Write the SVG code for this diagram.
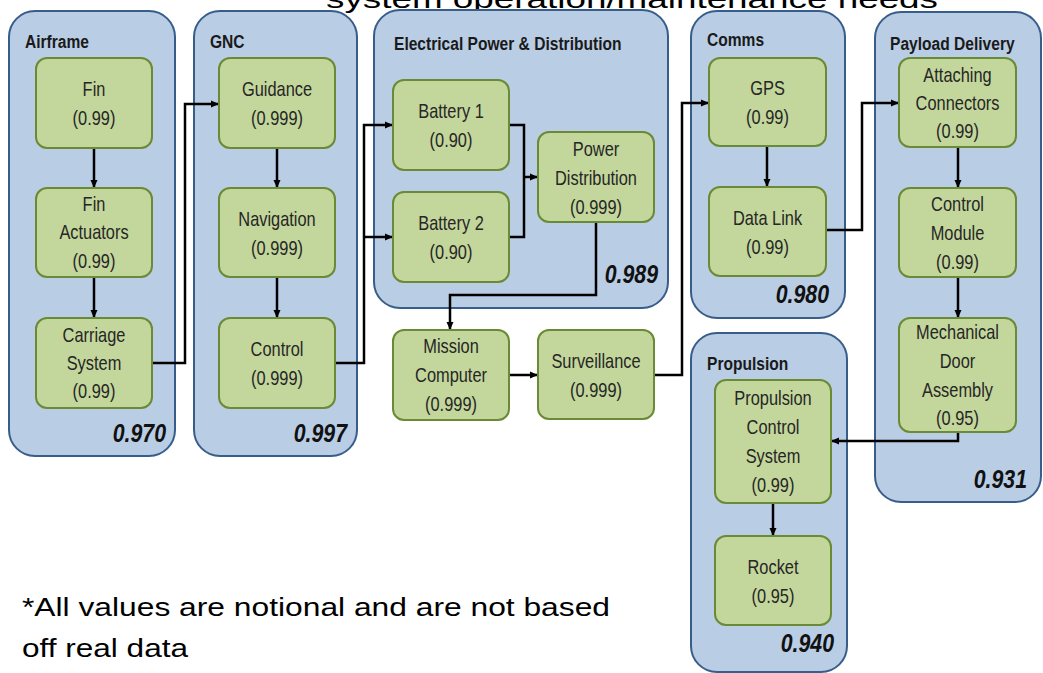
<svg xmlns="http://www.w3.org/2000/svg" width="1043" height="673" viewBox="0 0 1043 673">
<style>
.grp{fill:#b9cde5;stroke:#385d8a;stroke-width:2}
.node{fill:#c3d69b;stroke:#6b8a35;stroke-width:2}
.gl{font-family:"Liberation Sans",Arial,sans-serif;font-weight:bold;font-size:19px;fill:#1a1a1a}
.nt{font-family:"Liberation Sans",Arial,sans-serif;font-size:20px;fill:#262626;text-anchor:middle}
.rel{font-family:"Liberation Sans",Arial,sans-serif;font-weight:bold;font-style:italic;font-size:26px;fill:#111;text-anchor:end}
.cn{fill:none;stroke:#000;stroke-width:2.5;marker-end:url(#ah)}
.cl{fill:none;stroke:#000;stroke-width:2.5}
.note{font-family:"Liberation Sans",Arial,sans-serif;font-size:25px;fill:#000}
</style>
<defs>
<marker id="ah" markerUnits="userSpaceOnUse" markerWidth="9" markerHeight="8" refX="8" refY="4" orient="auto">
<path d="M0,0.5 L8,4 L0,7.5 z" fill="#000"/>
</marker>
</defs>
<rect width="1043" height="673" fill="#fff"/>
<text class="note" x="326" y="8" font-size="28" textLength="612" lengthAdjust="spacingAndGlyphs">system operation/maintenance needs</text>

<g id="airframe"><rect class="grp" x="9" y="11" width="166" height="445" rx="26"/><g transform="translate(25,0) scale(0.82,1)"><text class="gl" y="48">Airframe</text></g><g transform="translate(166,0) scale(0.82,1)"><text class="rel" y="442">0.970</text></g></g>
<g id="gnc"><rect class="grp" x="194" y="11" width="163" height="445" rx="26"/><g transform="translate(210,0) scale(0.82,1)"><text class="gl" y="48">GNC</text></g><g transform="translate(347,0) scale(0.82,1)"><text class="rel" y="442">0.997</text></g></g>
<g id="epd"><rect class="grp" x="374" y="10" width="294" height="298" rx="26"/><g transform="translate(394,0) scale(0.82,1)"><text class="gl" y="50">Electrical Power &amp; Distribution</text></g><g transform="translate(658,0) scale(0.82,1)"><text class="rel" y="283">0.989</text></g></g>
<g id="comms"><rect class="grp" x="691" y="11" width="154" height="307" rx="26"/><g transform="translate(707,0) scale(0.82,1)"><text class="gl" y="46">Comms</text></g><g transform="translate(829,0) scale(0.82,1)"><text class="rel" y="303">0.980</text></g></g>
<g id="payload"><rect class="grp" x="875" y="12" width="166" height="490" rx="26"/><g transform="translate(890,0) scale(0.82,1)"><text class="gl" y="50">Payload Delivery</text></g><g transform="translate(1027,0) scale(0.82,1)"><text class="rel" y="488">0.931</text></g></g>
<g id="propulsion"><rect class="grp" x="691" y="333" width="156" height="339" rx="26"/><g transform="translate(707,0) scale(0.82,1)"><text class="gl" y="370">Propulsion</text></g><g transform="translate(834,0) scale(0.82,1)"><text class="rel" y="652">0.940</text></g></g>

<g id="connectors">
<path class="cn" d="M94,148 V188"/>
<path class="cn" d="M94,277 V318"/>
<path class="cn" d="M152,363 H185 V104 H219"/>
<path class="cn" d="M277,148 V188"/>
<path class="cn" d="M277,277 V318"/>
<path class="cn" d="M335,363 H364 V125 H393"/>
<path class="cn" d="M364,237 H393"/>
<path class="cl" d="M509,125 H524 V237 H509"/>
<path class="cn" d="M524,177 H538"/>
<path class="cn" d="M596,222 V295 H450 V330"/>
<path class="cn" d="M509,375 H538"/>
<path class="cn" d="M654,375 H682 V103 H709"/>
<path class="cn" d="M767,146 V187"/>
<path class="cn" d="M826,230 H862 V103 H899"/>
<path class="cn" d="M958,147 V188"/>
<path class="cn" d="M958,277 V318"/>
<path class="cn" d="M958,432 V441 H831"/>
<path class="cn" d="M773,503 V536"/>
</g>

<g id="fin"><rect class="node" x="36" y="58" width="116" height="90" rx="11"/><g transform="translate(94,0) scale(0.82,1)"><text class="nt" y="96">Fin</text><text class="nt" y="125">(0.99)</text></g></g>
<g id="fin-actuators"><rect class="node" x="36" y="188" width="116" height="89" rx="11"/><g transform="translate(94,0) scale(0.82,1)"><text class="nt" y="211">Fin</text><text class="nt" y="239.5">Actuators</text><text class="nt" y="268">(0.99)</text></g></g>
<g id="carriage"><rect class="node" x="36" y="318" width="116" height="90" rx="11"/><g transform="translate(94,0) scale(0.82,1)"><text class="nt" y="342">Carriage</text><text class="nt" y="370">System</text><text class="nt" y="398">(0.99)</text></g></g>
<g id="guidance"><rect class="node" x="219" y="58" width="116" height="90" rx="11"/><g transform="translate(277,0) scale(0.82,1)"><text class="nt" y="96">Guidance</text><text class="nt" y="125">(0.999)</text></g></g>
<g id="navigation"><rect class="node" x="219" y="188" width="116" height="89" rx="11"/><g transform="translate(277,0) scale(0.82,1)"><text class="nt" y="226">Navigation</text><text class="nt" y="255">(0.999)</text></g></g>
<g id="control"><rect class="node" x="219" y="318" width="116" height="90" rx="11"/><g transform="translate(277,0) scale(0.82,1)"><text class="nt" y="356">Control</text><text class="nt" y="385">(0.999)</text></g></g>
<g id="battery1"><rect class="node" x="393" y="80" width="116" height="90" rx="11"/><g transform="translate(451,0) scale(0.82,1)"><text class="nt" y="118">Battery 1</text><text class="nt" y="147">(0.90)</text></g></g>
<g id="battery2"><rect class="node" x="393" y="192" width="116" height="90" rx="11"/><g transform="translate(451,0) scale(0.82,1)"><text class="nt" y="230">Battery 2</text><text class="nt" y="259">(0.90)</text></g></g>
<g id="power-distribution"><rect class="node" x="538" y="132" width="116" height="90" rx="11"/><g transform="translate(596,0) scale(0.82,1)"><text class="nt" y="156">Power</text><text class="nt" y="185">Distribution</text><text class="nt" y="214">(0.999)</text></g></g>
<g id="mission-computer"><rect class="node" x="393" y="330" width="116" height="90" rx="11"/><g transform="translate(451,0) scale(0.82,1)"><text class="nt" y="353">Mission</text><text class="nt" y="382">Computer</text><text class="nt" y="411">(0.999)</text></g></g>
<g id="surveillance"><rect class="node" x="538" y="330" width="116" height="89" rx="11"/><g transform="translate(596,0) scale(0.82,1)"><text class="nt" y="368">Surveillance</text><text class="nt" y="397">(0.999)</text></g></g>
<g id="gps"><rect class="node" x="709" y="58" width="117" height="88" rx="11"/><g transform="translate(767.5,0) scale(0.82,1)"><text class="nt" y="95.5">GPS</text><text class="nt" y="124.5">(0.99)</text></g></g>
<g id="data-link"><rect class="node" x="709" y="187" width="117" height="89" rx="11"/><g transform="translate(767.5,0) scale(0.82,1)"><text class="nt" y="225">Data Link</text><text class="nt" y="254">(0.99)</text></g></g>
<g id="attaching-connectors"><rect class="node" x="899" y="58" width="117" height="89" rx="11"/><g transform="translate(957.5,0) scale(0.82,1)"><text class="nt" y="82">Attaching</text><text class="nt" y="110">Connectors</text><text class="nt" y="138">(0.99)</text></g></g>
<g id="control-module"><rect class="node" x="899" y="188" width="117" height="89" rx="11"/><g transform="translate(957.5,0) scale(0.82,1)"><text class="nt" y="211">Control</text><text class="nt" y="240">Module</text><text class="nt" y="269">(0.99)</text></g></g>
<g id="mechanical-door"><rect class="node" x="899" y="318" width="117" height="114" rx="11"/><g transform="translate(957.5,0) scale(0.82,1)"><text class="nt" y="339">Mechanical</text><text class="nt" y="368">Door</text><text class="nt" y="397">Assembly</text><text class="nt" y="425">(0.95)</text></g></g>
<g id="propulsion-control"><rect class="node" x="715" y="380" width="116" height="123" rx="11"/><g transform="translate(773,0) scale(0.82,1)"><text class="nt" y="405">Propulsion</text><text class="nt" y="434">Control</text><text class="nt" y="463">System</text><text class="nt" y="492">(0.99)</text></g></g>
<g id="rocket"><rect class="node" x="715" y="536" width="116" height="89" rx="11"/><g transform="translate(773,0) scale(0.82,1)"><text class="nt" y="574">Rocket</text><text class="nt" y="603">(0.95)</text></g></g>

<text class="note" x="22" y="616" textLength="588" lengthAdjust="spacingAndGlyphs">*All values are notional and are not based</text>
<text class="note" x="22" y="657" textLength="166" lengthAdjust="spacingAndGlyphs">off real data</text>
</svg>
